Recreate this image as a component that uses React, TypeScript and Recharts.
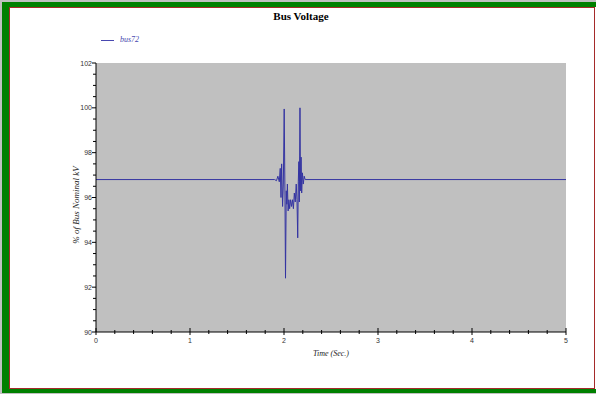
import React from 'react';
import { LineChart, Line, XAxis, YAxis, ReferenceArea } from 'recharts';

const times = [0, 1.9, 1.92, 1.935, 1.95, 1.96, 1.968, 1.975, 1.985, 1.993, 2.002, 2.01, 2.016, 2.024, 2.03, 2.036, 2.044, 2.052, 2.06, 2.07, 2.08, 2.09, 2.1, 2.11, 2.12, 2.13, 2.138, 2.146, 2.152, 2.158, 2.163, 2.17, 2.176, 2.182, 2.188, 2.196, 2.205, 2.215, 2.225, 5];
const bus72 = [96.8, 96.8, 96.75, 96.95, 96.7, 97.3, 96.0, 97.5, 95.6, 96.6, 99.95, 96.2, 92.4, 96.3, 95.7, 96.6, 95.4, 95.9, 95.5, 95.9, 95.6, 95.9, 95.5, 96.2, 95.8, 96.6, 95.9, 94.2, 96.7, 97.6, 95.8, 100.0, 96.3, 97.8, 96.2, 97.1, 96.6, 96.95, 96.8, 96.8];

const xTicks = [0, 0.2, 0.4, 0.6, 0.8, 1, 1.2, 1.4, 1.6, 1.8, 2, 2.2, 2.4, 2.6, 2.8, 3, 3.2, 3.4, 3.6, 3.8, 4, 4.2, 4.4, 4.6, 4.8, 5];
const xMajor = [0, 1, 2, 3, 4, 5];
const yTicks = [90, 90.5, 91, 91.5, 92, 92.5, 93, 93.5, 94, 94.5, 95, 95.5, 96, 96.5, 97, 97.5, 98, 98.5, 99, 99.5, 100, 100.5, 101, 101.5, 102];
const yMajor = [90, 92, 94, 96, 98, 100, 102];

const data = times.map((t, i) => ({ t, v: bus72[i] }));

const tickFont = { fontFamily: 'Liberation Sans, Arial, sans-serif', fontSize: 7, fill: '#333' };

const YTick = (props: any) => {
  const { x, y, payload } = props;
  const major = yMajor.includes(payload.value);
  return (
    <g>
      <line x1={x - (major ? 4 : 3)} x2={x} y1={y} y2={y} stroke="#000" strokeWidth={1} />
      {major && (
        <text x={x - 4} y={y} dy={2.5} textAnchor="end" {...tickFont}>{payload.value}</text>
      )}
    </g>
  );
};

const XTick = (props: any) => {
  const { x, y, payload } = props;
  const major = xMajor.includes(payload.value);
  return (
    <g>
      <line x1={x} x2={x} y1={y - (major ? 4 : 2)} y2={y + (major ? 3 : 2)} stroke="#000" strokeWidth={1} />
      {major && (
        <text x={x} y={y} dy={11} textAnchor="middle" {...tickFont}>{payload.value}</text>
      )}
    </g>
  );
};

export default function App() {
  return (
    <div style={{ position: 'absolute', left: 0, top: 0, width: 596, height: 394, background: '#c0c0c0', overflow: 'hidden' }}>
      <div style={{ position: 'absolute', left: 2, top: 2, width: 600, height: 391, background: '#008000' }} />
      <div style={{ position: 'absolute', left: 9, top: 7, width: 600, height: 382, background: '#fff' }} />
      <div style={{ position: 'absolute', left: 9, top: 7, width: 586, height: 382, border: '1px solid #a52a2a', boxSizing: 'border-box' }} />
      <div style={{ position: 'absolute', left: 0, top: 0 }}>
        <LineChart width={596} height={394} data={data} margin={{ top: 63, right: 30, bottom: 32, left: 36 }}>
          <XAxis
            dataKey="t"
            type="number"
            domain={[0, 5]}
            ticks={xTicks}
            interval={0}
            tickSize={0}
            tickMargin={0}
            tickLine={false}
            tick={<XTick />}
            axisLine={{ stroke: '#000', strokeWidth: 1 }}
            height={30}
          />
          <YAxis
            type="number"
            domain={[90, 102]}
            ticks={yTicks}
            interval={0}
            tickSize={0}
            tickMargin={0}
            tickLine={false}
            tick={<YTick />}
            axisLine={{ stroke: '#000', strokeWidth: 1 }}
            width={60}
            allowDataOverflow
          />
          <ReferenceArea x1={0} x2={5} y1={90} y2={102} fill="#c0c0c0" fillOpacity={1} stroke="none" />
          <Line type="linear" dataKey="v" stroke="#3434a2" strokeWidth={1} dot={false} isAnimationActive={false} />
        </LineChart>
      </div>
      <div style={{ position: 'absolute', left: 0, width: 602, top: 10, textAlign: 'center', fontFamily: 'Liberation Serif, serif', fontWeight: 'bold', fontSize: 11, color: '#000' }}>Bus Voltage</div>
      <div style={{ position: 'absolute', left: 101, top: 40, width: 13, height: 0, borderTop: '1px solid #4848b0' }} />
      <div style={{ position: 'absolute', left: 120, top: 35, fontFamily: 'Liberation Serif, serif', fontStyle: 'italic', fontSize: 8, color: '#4848b0' }}>bus72</div>
      <div style={{ position: 'absolute', left: 331, top: 349, transform: 'translateX(-50%)', whiteSpace: 'nowrap', fontFamily: 'Liberation Serif, serif', fontStyle: 'italic', fontSize: 8, color: '#222' }}>Time (Sec.)</div>
      <div style={{ position: 'absolute', left: 76, top: 205, transform: 'translate(-50%, -50%) rotate(-90deg)', whiteSpace: 'nowrap', fontFamily: 'Liberation Serif, serif', fontStyle: 'italic', fontSize: 9, color: '#222' }}>% of Bus Nominal kV</div>
    </div>
  );
}
